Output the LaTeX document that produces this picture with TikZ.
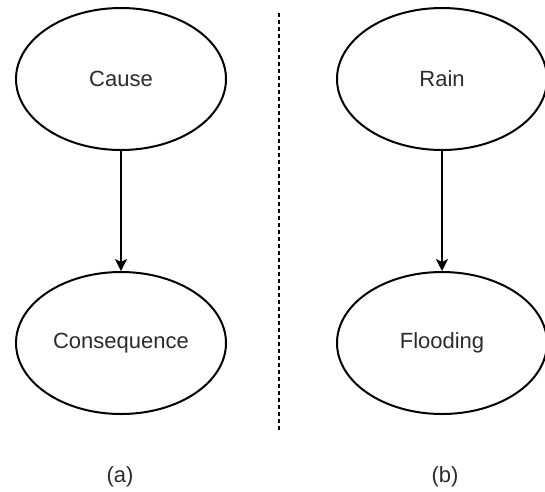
\documentclass[tikz,border=0pt]{standalone}
\usepackage{fontspec}
\setmainfont{Liberation Sans}
\usetikzlibrary{shapes.geometric,arrows.meta}
\definecolor{txtgray}{HTML}{2B2B2B}
\begin{document}
\begin{tikzpicture}[x=1pt,y=-1pt,
  event/.style={ellipse,draw,line width=2pt,minimum width=210pt,minimum height=142pt,inner sep=0pt,
    text=txtgray,font=\fontsize{22}{26}\selectfont},
  caption/.style={text=txtgray,font=\fontsize{22}{26}\selectfont},
  >={Stealth[length=12pt,width=12pt,inset=3pt]}]
	\useasboundingbox (0,0) rectangle (545,491);
	% (a) general case
	\node[event] (cause) at (121,79) {Cause};
	\node[event] (conseq) at (121,343) {Consequence};
	\draw[line width=1.2pt, ->] (cause) -- (conseq);
	\node[caption] (capa) at (120,477) {(a)};
	% (b) example
	\node[event] (rain) at (442,79) {Rain};
	\node[event] (flood) at (442,343) {Flooding};
	\draw[line width=1.2pt, ->] (rain) -- (flood);
	\node[caption] (capb) at (445,477) {(b)};
	% separator
	\coordinate (septop) at (279,13);
	\coordinate (sepbot) at (279,432);
	\draw[line width=1.2pt, dash pattern=on 4pt off 3pt] (septop) -- (sepbot);
\end{tikzpicture}
\end{document}
